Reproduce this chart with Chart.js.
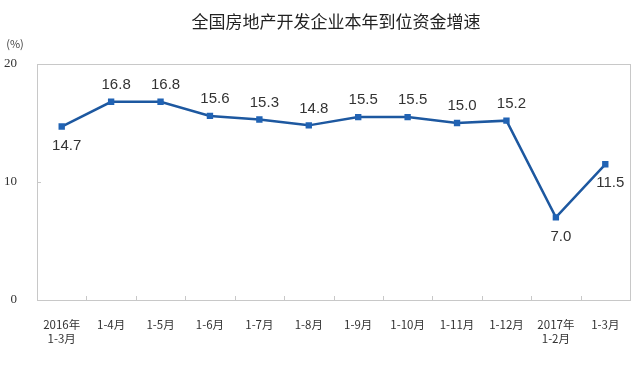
<!DOCTYPE html>
<html>
<head>
<meta charset="utf-8">
<script src="https://cdn.jsdelivr.net/npm/chart.js@4/dist/chart.umd.min.js"></script>
<style>
  html, body { margin: 0; padding: 0; background: #fff; }
  #wrap { width: 644px; height: 366px; }
</style>
</head>
<body>
<div id="wrap"><canvas id="myChart" width="644" height="366"></canvas></div>
<script>
const months = [['2016年', '1-3月'], '1-4月', '1-5月', '1-6月', '1-7月', '1-8月', '1-9月',
    '1-10月', '1-11月', '1-12月', ['2017年', '1-2月'], '1-3月'];
const growth = [14.7, 16.8, 16.8, 15.6, 15.3, 14.8, 15.5, 15.5, 15.0, 15.2, 7.0, 11.5];
// where each value label sits: above / below the point
const labelSide = ['below', 'above', 'above', 'above', 'above', 'above', 'above', 'above', 'above', 'above', 'below', 'below'];
const yTicks = [0, 10, 20];

const chartTitle = '全国房地产开发企业本年到位资金增速';

const decor = {
    id: 'decor',
    afterDraw(chart) {
        const ctx = chart.ctx;
        const a = chart.chartArea;
        const x = chart.scales.x;
        const y = chart.scales.y;
        ctx.save();

        // title and unit
        ctx.fillStyle = '#222';
        ctx.font = '17px "Noto Sans CJK SC"';
        ctx.textAlign = 'center';
        ctx.textBaseline = 'middle';
        ctx.fillText(chartTitle, 336, 22);
        ctx.font = '11px "Noto Sans CJK SC"';
        ctx.fillStyle = '#444';
        ctx.fillText('(%)', 15, 44);

        // plot box
        ctx.strokeStyle = '#c8c8c8';
        ctx.lineWidth = 1;
        ctx.strokeRect(Math.round(a.left) + 0.5, Math.round(a.top) + 0.5,
            Math.round(a.right - a.left), Math.round(a.bottom - a.top));

        // inner tick marks
        ctx.beginPath();
        for (let i = 1; i < months.length; i++) {
            const px = Math.round((x.getPixelForValue(i - 1) + x.getPixelForValue(i)) / 2) + 0.5;
            ctx.moveTo(px, a.bottom);
            ctx.lineTo(px, a.bottom - 4);
        }
        const py = Math.round(y.getPixelForValue(10)) + 0.5;
        ctx.moveTo(a.left, py);
        ctx.lineTo(a.left + 4, py);
        ctx.stroke();

        // value labels
        const meta = chart.getDatasetMeta(0);
        ctx.fillStyle = '#333';
        ctx.font = '15px "Liberation Sans", Arial';
        meta.data.forEach((pt, i) => {
            const dy = labelSide[i] === 'above' ? -17 : 19;
            ctx.fillText(growth[i].toFixed(1), pt.x + 5, pt.y + dy);
        });
        ctx.restore();
    }
};

new Chart(document.getElementById('myChart'), {
    type: 'line',
    data: {
        labels: months,
        datasets: [{
            data: growth,
            borderColor: '#1d58a0',
            borderWidth: 2.5,
            backgroundColor: '#2163b4',
            pointStyle: 'rect',
            pointRadius: 4.5,
            pointBorderWidth: 0,
            tension: 0
        }]
    },
    options: {
        responsive: false,
        animation: false,
        layout: { padding: { top: 64, right: 14, left: 0, bottom: 0 } },
        plugins: {
            legend: { display: false },
            title: { display: false },
            tooltip: { enabled: false }
        },
        scales: {
            x: {
                offset: true,
                grid: { display: false },
                border: { display: false },
                afterFit(s) { s.height = 66; },
                ticks: {
                    color: '#333',
                    font: { family: '"Noto Sans CJK SC"', size: 11.5 },
                    padding: 10,
                    maxRotation: 0,
                    autoSkip: false
                }
            },
            y: {
                min: 0,
                max: 20,
                afterFit(s) { s.width = 37; },
                afterBuildTicks(s) { s.ticks = yTicks.map(v => ({ value: v })); },
                grid: { display: false },
                border: { display: false },
                ticks: {
                    color: '#333',
                    font: { family: '"Liberation Serif"', size: 13 },
                    padding: 12
                }
            }
        }
    },
    plugins: [decor]
});
</script>
</body>
</html>
